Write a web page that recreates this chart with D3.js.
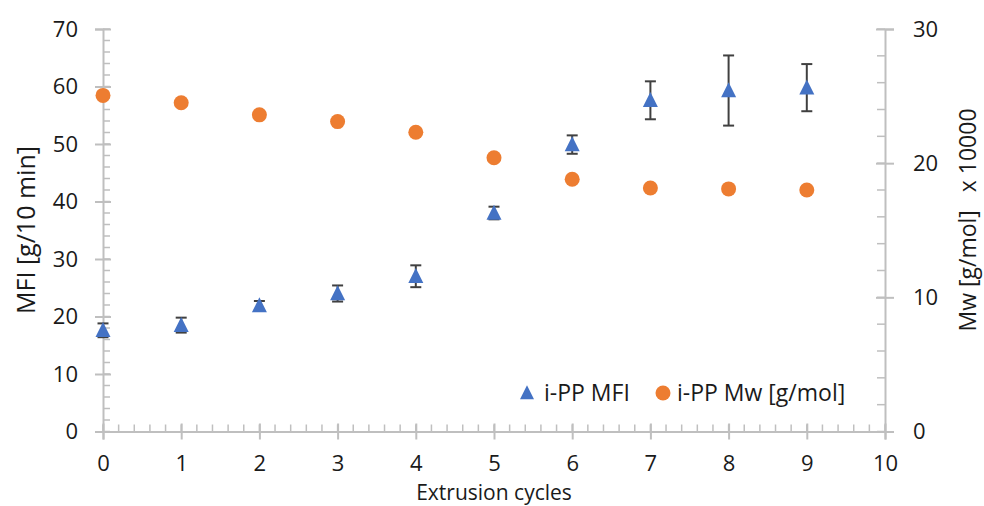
<!DOCTYPE html>
<html><head><meta charset="utf-8">
<script src="https://cdn.jsdelivr.net/npm/d3@7"></script>
<style>
body{margin:0;background:#fff;}
svg{display:block;font-family:"Open Sans",Lato,sans-serif;}
</style></head>
<body>
<svg id="chart" width="984" height="506"></svg>
<script>
const cycles = [0,1,2,3,4,5,6,7,8,9];
const mfi = [17.6,18.5,21.9,24.0,27.0,38.0,49.9,57.6,59.3,59.8];
const mfiErr = [1.2,1.3,0.8,1.4,1.9,1.1,1.6,3.3,6.1,4.1];
const mw = [25.05,24.5,23.6,23.1,22.3,20.4,18.8,18.15,18.08,18.0];
const xTicks = [0,1,2,3,4,5,6,7,8,9,10];
const yLeftTicks = [0,10,20,30,40,50,60,70];
const yRightTicks = [0,10,20,30];
const legendLabels = ["i-PP MFI","i-PP Mw [g/mol]"];

const svg = d3.select("#chart");
const axisColor = "#bfbfbf";
const textColor = "#1a1a1a";
const blue = "#4472c4", orange = "#ed7d31";
const font = "'Open Sans',Lato,sans-serif";

const x = d3.scaleLinear().domain([0,10]).range([103,885]);
const yL = d3.scaleLinear().domain([0,70]).range([431.5,29]);
const yR = d3.scaleLinear().domain([0,30]).range([431.5,29]);

const g = svg.append("g");

// minor ticks
const xMinor = d3.range(0,10.0001,0.2);
g.selectAll(".xminor").data(xMinor).join("line")
  .attr("x1",d=>x(d)).attr("x2",d=>x(d)).attr("y1",yL(0)).attr("y2",yL(0)-7)
  .attr("stroke",axisColor).attr("stroke-width",1.5);
const yLMinor = d3.range(0,70.0001,2);
g.selectAll(".ylminor").data(yLMinor).join("line")
  .attr("x1",x(0)).attr("x2",x(0)+7).attr("y1",d=>yL(d)).attr("y2",d=>yL(d))
  .attr("stroke",axisColor).attr("stroke-width",1.5);
const yRMinor = d3.range(0,30.0001,2);
g.selectAll(".yrminor").data(yRMinor).join("line")
  .attr("x1",x(10)).attr("x2",x(10)-8).attr("y1",d=>yR(d)).attr("y2",d=>yR(d))
  .attr("stroke",axisColor).attr("stroke-width",1.5);

// axes with crossing major ticks
const fs = 22;
const xAxis = d3.axisBottom(x).tickValues(xTicks).tickSize(8).tickFormat(d3.format("d"));
const gx = g.append("g").attr("transform",`translate(0,${yL(0)})`).call(xAxis);
gx.selectAll(".tick line").attr("y1",-8);
gx.selectAll(".tick text").attr("dy",0).attr("y",39).attr("font-size",fs);

const yAxisL = d3.axisLeft(yL).tickValues(yLeftTicks).tickSize(8).tickFormat(d3.format("d"));
const gyl = g.append("g").attr("transform",`translate(${x(0)},0)`).call(yAxisL);
gyl.selectAll(".tick line").attr("x1",8);
gyl.selectAll(".tick text").attr("x",-25).attr("font-size",fs);

const yAxisR = d3.axisRight(yR).tickValues(yRightTicks).tickSize(9).tickFormat(d3.format("d"));
const gyr = g.append("g").attr("transform",`translate(${x(10)},0)`).call(yAxisR);
gyr.selectAll(".tick line").attr("x1",-9);
gyr.selectAll(".tick text").attr("x",28).attr("font-size",fs);

[gx,gyl,gyr].forEach(a=>{
  a.select(".domain").attr("stroke",axisColor).attr("stroke-width",2);
  a.selectAll(".tick line").attr("stroke",axisColor).attr("stroke-width",2);
  a.selectAll(".tick text").attr("fill",textColor).attr("font-family",font);
});

// titles
svg.append("text").attr("transform","translate(35,230) rotate(-90)")
  .attr("text-anchor","middle").attr("font-size",25).attr("fill",textColor)
  .text("MFI [g/10 min]");
svg.append("text").attr("transform","translate(976,220) rotate(-90)")
  .attr("text-anchor","middle").attr("font-size",23).attr("fill",textColor)
  .attr("xml:space","preserve")
  .text("Mw [g/mol]   x 10000");
svg.append("text").attr("x",494).attr("y",500)
  .attr("text-anchor","middle").attr("font-size",21).attr("fill",textColor)
  .text("Extrusion cycles");

// Mw points
g.selectAll(".mw").data(cycles).join("circle")
  .attr("cx",d=>x(d)).attr("cy",(d,i)=>yR(mw[i])).attr("r",7.5).attr("fill",orange);

// MFI error bars
const eb = g.selectAll(".eb").data(cycles).join("g").attr("stroke","#404040").attr("stroke-width",2);
eb.append("line").attr("x1",d=>x(d)).attr("x2",d=>x(d))
  .attr("y1",(d,i)=>yL(mfi[i]+mfiErr[i])).attr("y2",(d,i)=>yL(mfi[i]-mfiErr[i]));
eb.append("line").attr("x1",d=>x(d)-5.5).attr("x2",d=>x(d)+5.5)
  .attr("y1",(d,i)=>yL(mfi[i]+mfiErr[i])).attr("y2",(d,i)=>yL(mfi[i]+mfiErr[i]));
eb.append("line").attr("x1",d=>x(d)-5.5).attr("x2",d=>x(d)+5.5)
  .attr("y1",(d,i)=>yL(mfi[i]-mfiErr[i])).attr("y2",(d,i)=>yL(mfi[i]-mfiErr[i]));

// MFI triangles
const tri = (cx,cy,s)=>`M${cx},${cy-s*0.55}L${cx+s/2},${cy+s*0.45}L${cx-s/2},${cy+s*0.45}Z`;
g.selectAll(".mfi").data(cycles).join("path")
  .attr("d",(d,i)=>tri(x(d),yL(mfi[i]),15)).attr("fill",blue);

// legend
const lg = svg.append("g");
lg.append("path").attr("d",tri(527,393,14)).attr("fill",blue);
lg.append("text").attr("x",544).attr("y",401).attr("font-size",23).attr("fill",textColor).text(legendLabels[0]);
lg.append("circle").attr("cx",663).attr("cy",393).attr("r",7.5).attr("fill",orange);
lg.append("text").attr("x",677).attr("y",401).attr("font-size",23).attr("fill",textColor).text(legendLabels[1]);
</script>
</body></html>
